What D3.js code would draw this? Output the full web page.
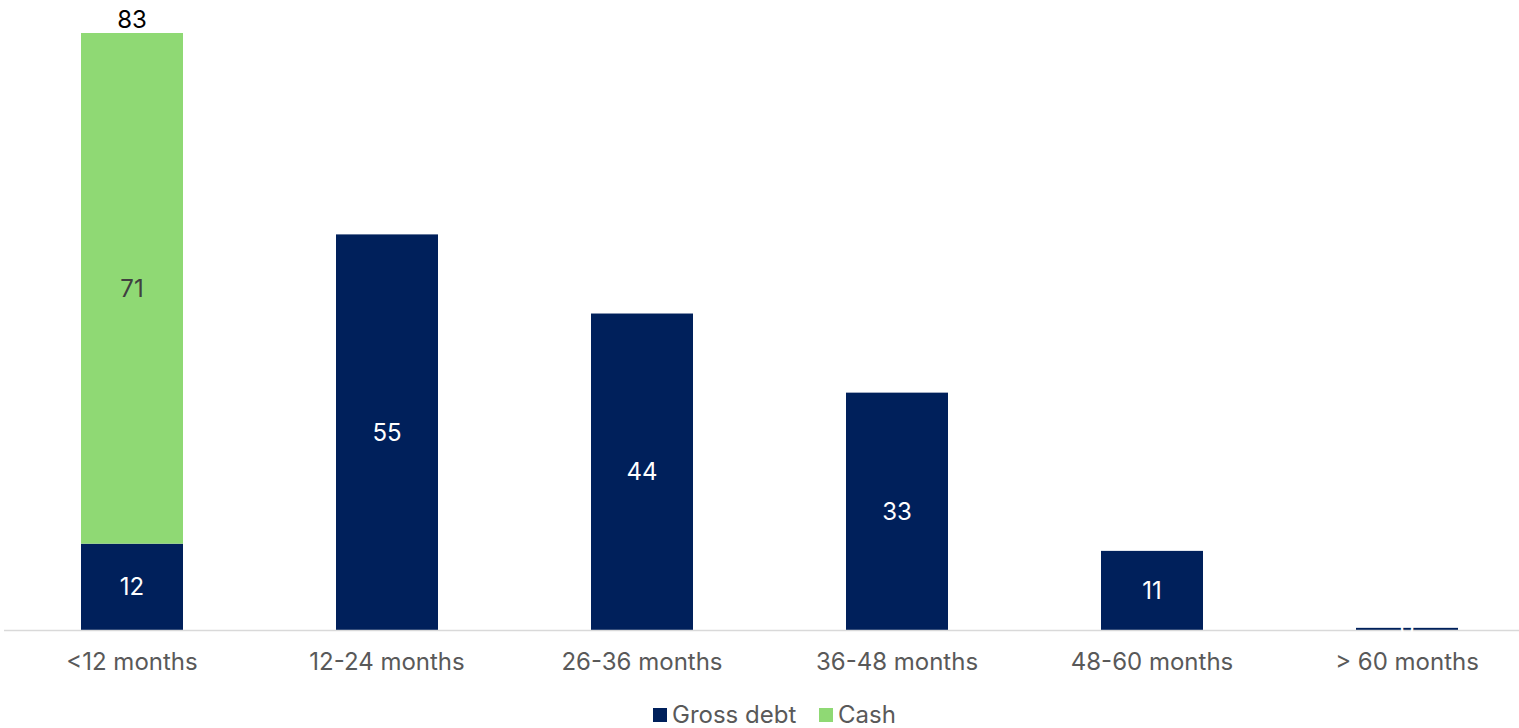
<!DOCTYPE html>
<html>
<head>
<meta charset="utf-8">
<script src="https://cdn.jsdelivr.net/npm/d3@7/dist/d3.min.js"></script>
<style>
  html, body { margin: 0; padding: 0; background: #fff; overflow: hidden; }
  svg { display: block; font-family: Inter, "Noto Sans", sans-serif; }
</style>
</head>
<body>
<svg id="chart" width="1519" height="728"></svg>
<script>
// Debt maturity profile: gross debt per bucket, plus cash held in the first bucket
const categories = ["<12 months", "12-24 months", "26-36 months", "36-48 months", "48-60 months", "> 60 months"];
const grossDebt = [12, 55, 44, 33, 11, 0.3];
const cash = [71, 0, 0, 0, 0, 0];
const debtLabels = ["12", "55", "44", "33", "11", "0"];
const cashLabels = ["71", "", "", "", "", ""];
const totalLabels = ["83", "", "", "", "", ""];
const seriesNames = ["Gross debt", "Cash"];

const colors = { "Gross debt": "#00205B", "Cash": "#8FD974" };

const svg = d3.select("#chart");
const W = 1519, H = 728;
const baseY = 630, topY = 33;

const rows = categories.map((c, i) => ({ cat: c, "Gross debt": grossDebt[i], "Cash": cash[i], i }));
const stacked = d3.stack().keys(seriesNames)(rows);

const x = d3.scaleBand().domain(categories).range([4.5, 1534.5]).paddingInner(0.6).paddingOuter(0.3);
const y = d3.scaleLinear().domain([0, 83]).range([baseY, topY]);

// bars
const layers = svg.append("g").selectAll("g").data(stacked).join("g")
  .attr("fill", d => colors[d.key]);
layers.selectAll("rect").data(d => d.map(p => ({ p, key: d.key })))
  .join("rect")
  .filter(d => d.p[1] - d.p[0] > 0)
  .attr("x", d => x(d.p.data.cat))
  .attr("width", x.bandwidth())
  .attr("y", d => y(d.p[1]))
  .attr("height", d => y(d.p[0]) - y(d.p[1]));

// baseline
svg.append("line")
  .attr("x1", 4).attr("x2", W)
  .attr("y1", baseY + 0.5).attr("y2", baseY + 0.5)
  .attr("stroke", "#d9d9d9").attr("stroke-width", 1.5);

// x axis labels
const xAxis = d3.axisBottom(x).tickSize(0).tickPadding(0);
const ax = svg.append("g").attr("transform", `translate(0,${baseY})`).call(xAxis);
ax.select(".domain").remove();
ax.selectAll("text")
  .attr("y", 32).attr("dy", "0.35em")
  .attr("fill", "#595959")
  .style("font-size", "24px")
  .style("font-family", "Inter, 'Noto Sans', sans-serif");

// segment value labels
const labelG = svg.append("g").attr("text-anchor", "middle")
  .style("font-size", "24px");
stacked.forEach((layer, li) => {
  const labels = li === 0 ? debtLabels : cashLabels;
  layer.forEach((p, i) => {
    if (!labels[i]) return;
    labelG.append("text")
      .attr("x", x(categories[i]) + x.bandwidth() / 2)
      .attr("y", (y(p[0]) + y(p[1])) / 2)
      .attr("dy", "0.35em")
      .attr("fill", li === 0 ? "#ffffff" : "#404040")
      .text(labels[i]);
  });
});

// total labels above stacks
stacked[stacked.length - 1].forEach((p, i) => {
  if (!totalLabels[i]) return;
  labelG.append("text")
    .attr("x", x(categories[i]) + x.bandwidth() / 2)
    .attr("y", y(p[1]) - 13)
    .attr("dy", "0.35em")
    .attr("fill", "#000000")
    .text(totalLabels[i]);
});

// legend
const legend = svg.append("g").attr("transform", "translate(653,715)");
const offsets = [0, 166];
seriesNames.forEach((name, i) => {
  const g = legend.append("g").attr("transform", `translate(${offsets[i]},0)`);
  g.append("rect").attr("x", 0).attr("y", -7).attr("width", 14).attr("height", 14)
    .attr("fill", colors[name]);
  g.append("text").attr("x", 19).attr("y", 0).attr("dy", "0.35em")
    .attr("fill", "#595959").style("font-size", "24px").text(name);
});
</script>
</body>
</html>
